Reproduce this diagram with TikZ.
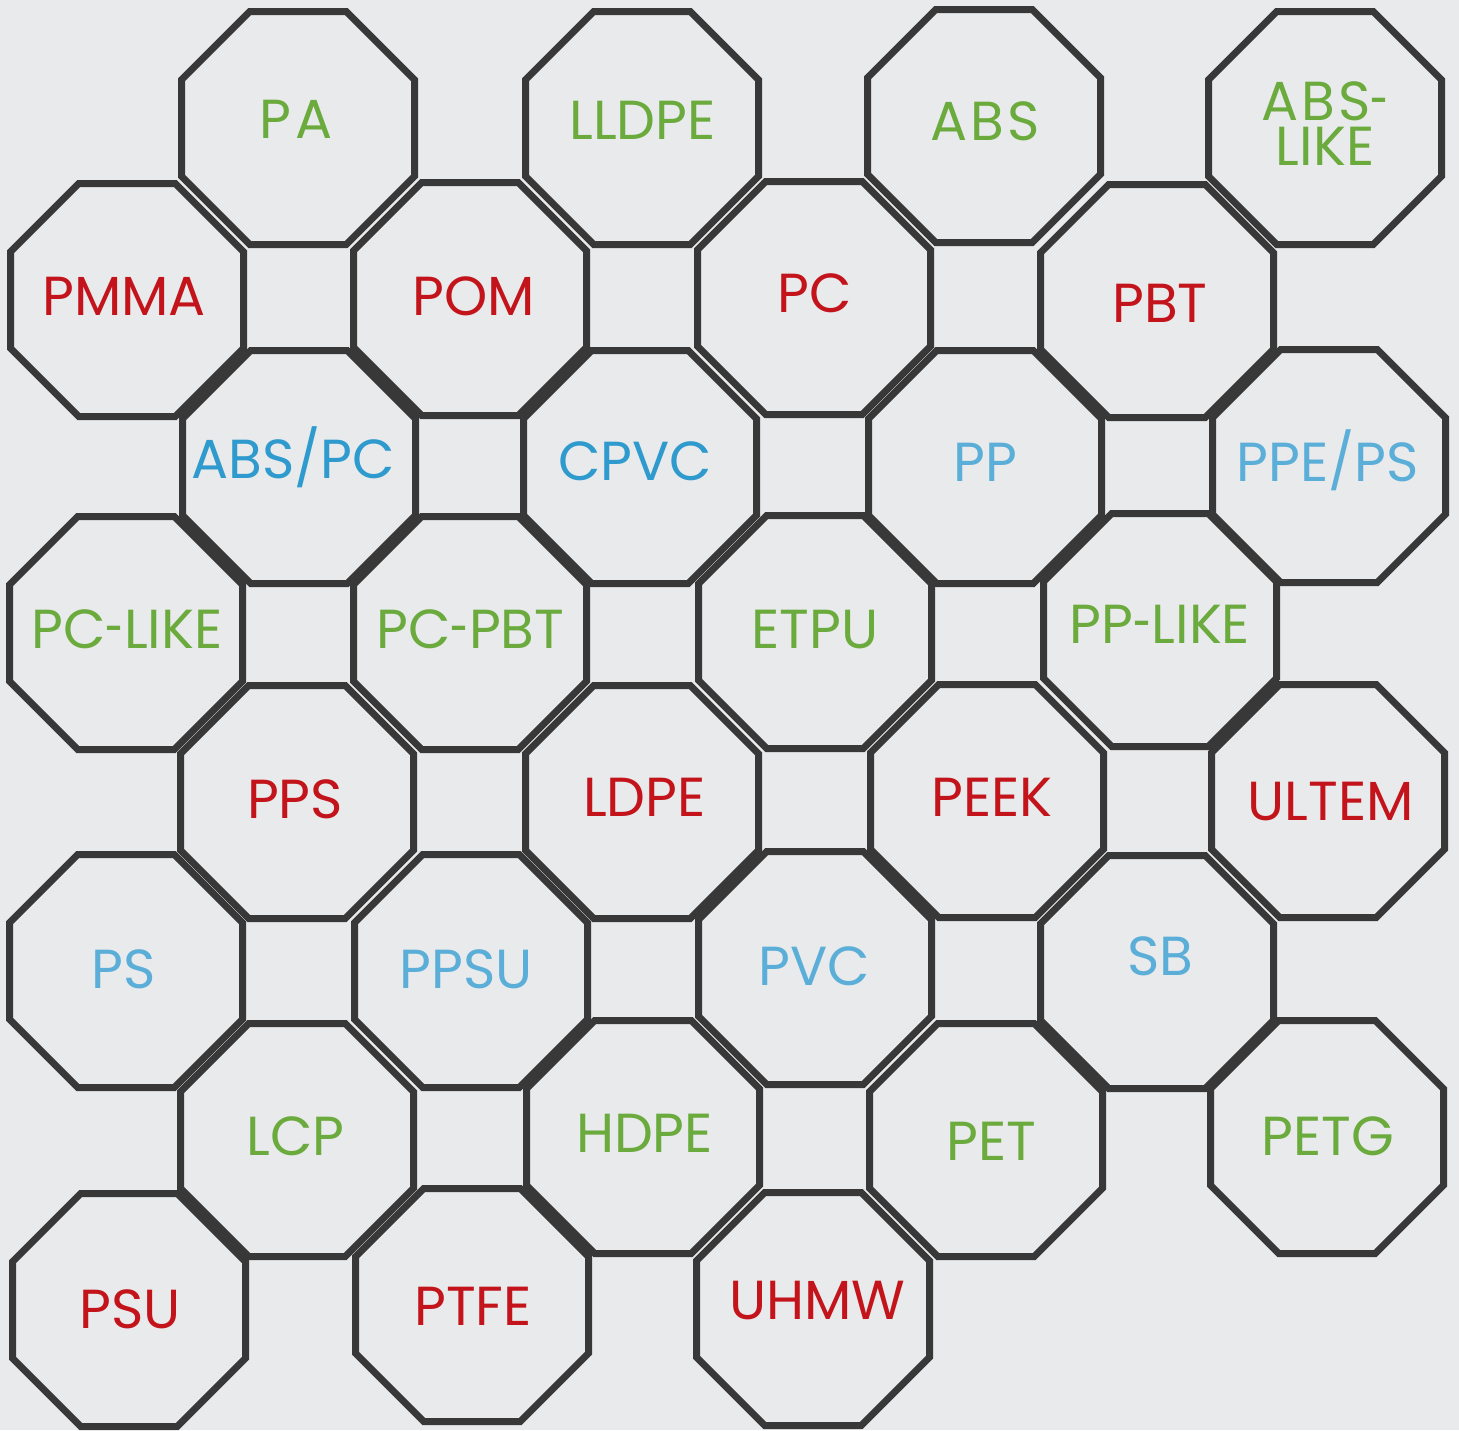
\documentclass[tikz,border=0pt]{standalone}
\usepackage{fontspec}
\setmainfont{Poppins}
\definecolor{bgc}{HTML}{E9EAEC}
\definecolor{linec}{HTML}{383838}
\definecolor{grn}{HTML}{6BAA3C}
\definecolor{rd}{HTML}{C3141B}
\definecolor{bld}{HTML}{2E9ACD}
\definecolor{bll}{HTML}{5BAED8}
\newcommand\hy{\scalebox{0.6}[1]{-}}
\tikzset{
  octline/.style={draw=linec, line width=7pt, line join=miter},
  lbl/.style={anchor=base, inner sep=0pt, font=\fontsize{55}{60}\selectfont}
}
% #1 #2: octagon centre, #3 #4: label base point, #5 name, #6 colour, #7 text
\newcommand\octa[7]{%
  \draw[octline] ({#1+48.25},{#2-116.5}) -- ({#1+116.5},{#2-48.25}) -- ({#1+116.5},{#2+48.25}) -- ({#1+48.25},{#2+116.5})
    -- ({#1-48.25},{#2+116.5}) -- ({#1-116.5},{#2+48.25}) -- ({#1-116.5},{#2-48.25}) -- ({#1-48.25},{#2-116.5}) -- cycle;
  \node[lbl,text=#6] (#5) at (#3,#4) {#7};
}
\begin{document}
\begin{tikzpicture}[x=1pt,y=-1pt]
\fill[bgc] (0,0) rectangle (1459,1430);
\useasboundingbox (0,0) rectangle (1459,1430);
% row of upper odd columns
\octa{298}{128}{296}{138}{pa}{grn}{\addfontfeatures{LetterSpace=6}PA}
\octa{642}{128}{642.5}{139}{lldpe}{grn}{LLDPE}
\octa{984}{126}{985}{140}{abs}{grn}{\addfontfeatures{LetterSpace=6}ABS}
\octa{1325}{128}{1325}{120}{abslike}{grn}{\addfontfeatures{LetterSpace=6}ABS\hy}
\node[lbl,text=grn] (abslikeb) at (1325,165) {LIKE};
% row
\octa{127}{300}{124}{315}{pmma}{rd}{PMMA}
\octa{470}{299}{474}{315}{pom}{rd}{POM}
\octa{814}{298}{814.5}{312}{pc}{rd}{PC}
\octa{1157}{301}{1160}{322}{pbt}{rd}{PBT}
% row
\octa{299}{467}{293}{478}{abspc}{bld}{ABS/PC}
\octa{640}{467}{635}{480}{cpvc}{bld}{CPVC}
\octa{985}{467}{985}{481}{pp}{bll}{PP}
\octa{1329}{466}{1327.5}{481}{ppeps}{bll}{PPE/PS}
% row
\octa{126}{633}{127}{648}{pclike}{grn}{PC\hy LIKE}
\octa{470}{633}{470.5}{648}{pcpbt}{grn}{PC\hy PBT}
\octa{815}{632}{815}{648}{etpu}{grn}{ETPU}
\octa{1160}{630}{1160}{643}{pplike}{grn}{PP\hy LIKE}
% row
\octa{297}{802}{295}{818}{pps}{rd}{PPS}
\octa{642}{802}{644.5}{816}{ldpe}{rd}{LDPE}
\octa{987}{801}{992}{816}{peek}{rd}{PEEK}
\octa{1328}{801}{1330.5}{820}{ultem}{rd}{ULTEM}
% row
\octa{126}{971}{123.5}{988}{ps}{bll}{PS}
\octa{471}{971}{466}{988}{ppsu}{bll}{PPSU}
\octa{815}{968}{814}{985}{pvc}{bll}{PVC}
\octa{1157}{972}{1160}{975}{sb}{bll}{SB}
% row
\octa{297}{1140}{295.5}{1155}{lcp}{grn}{LCP}
\octa{643}{1137}{644.5}{1152}{hdpe}{grn}{HDPE}
\octa{986}{1140}{991.5}{1160}{pet}{grn}{PET}
\octa{1327}{1137}{1328}{1155}{petg}{grn}{PETG}
% row
\octa{129}{1310}{130}{1328}{psu}{rd}{PSU}
\octa{472}{1305}{473}{1325}{ptfe}{rd}{PTFE}
\octa{813}{1309}{817.5}{1319}{uhmw}{rd}{UHMW}
\end{tikzpicture}
\end{document}
